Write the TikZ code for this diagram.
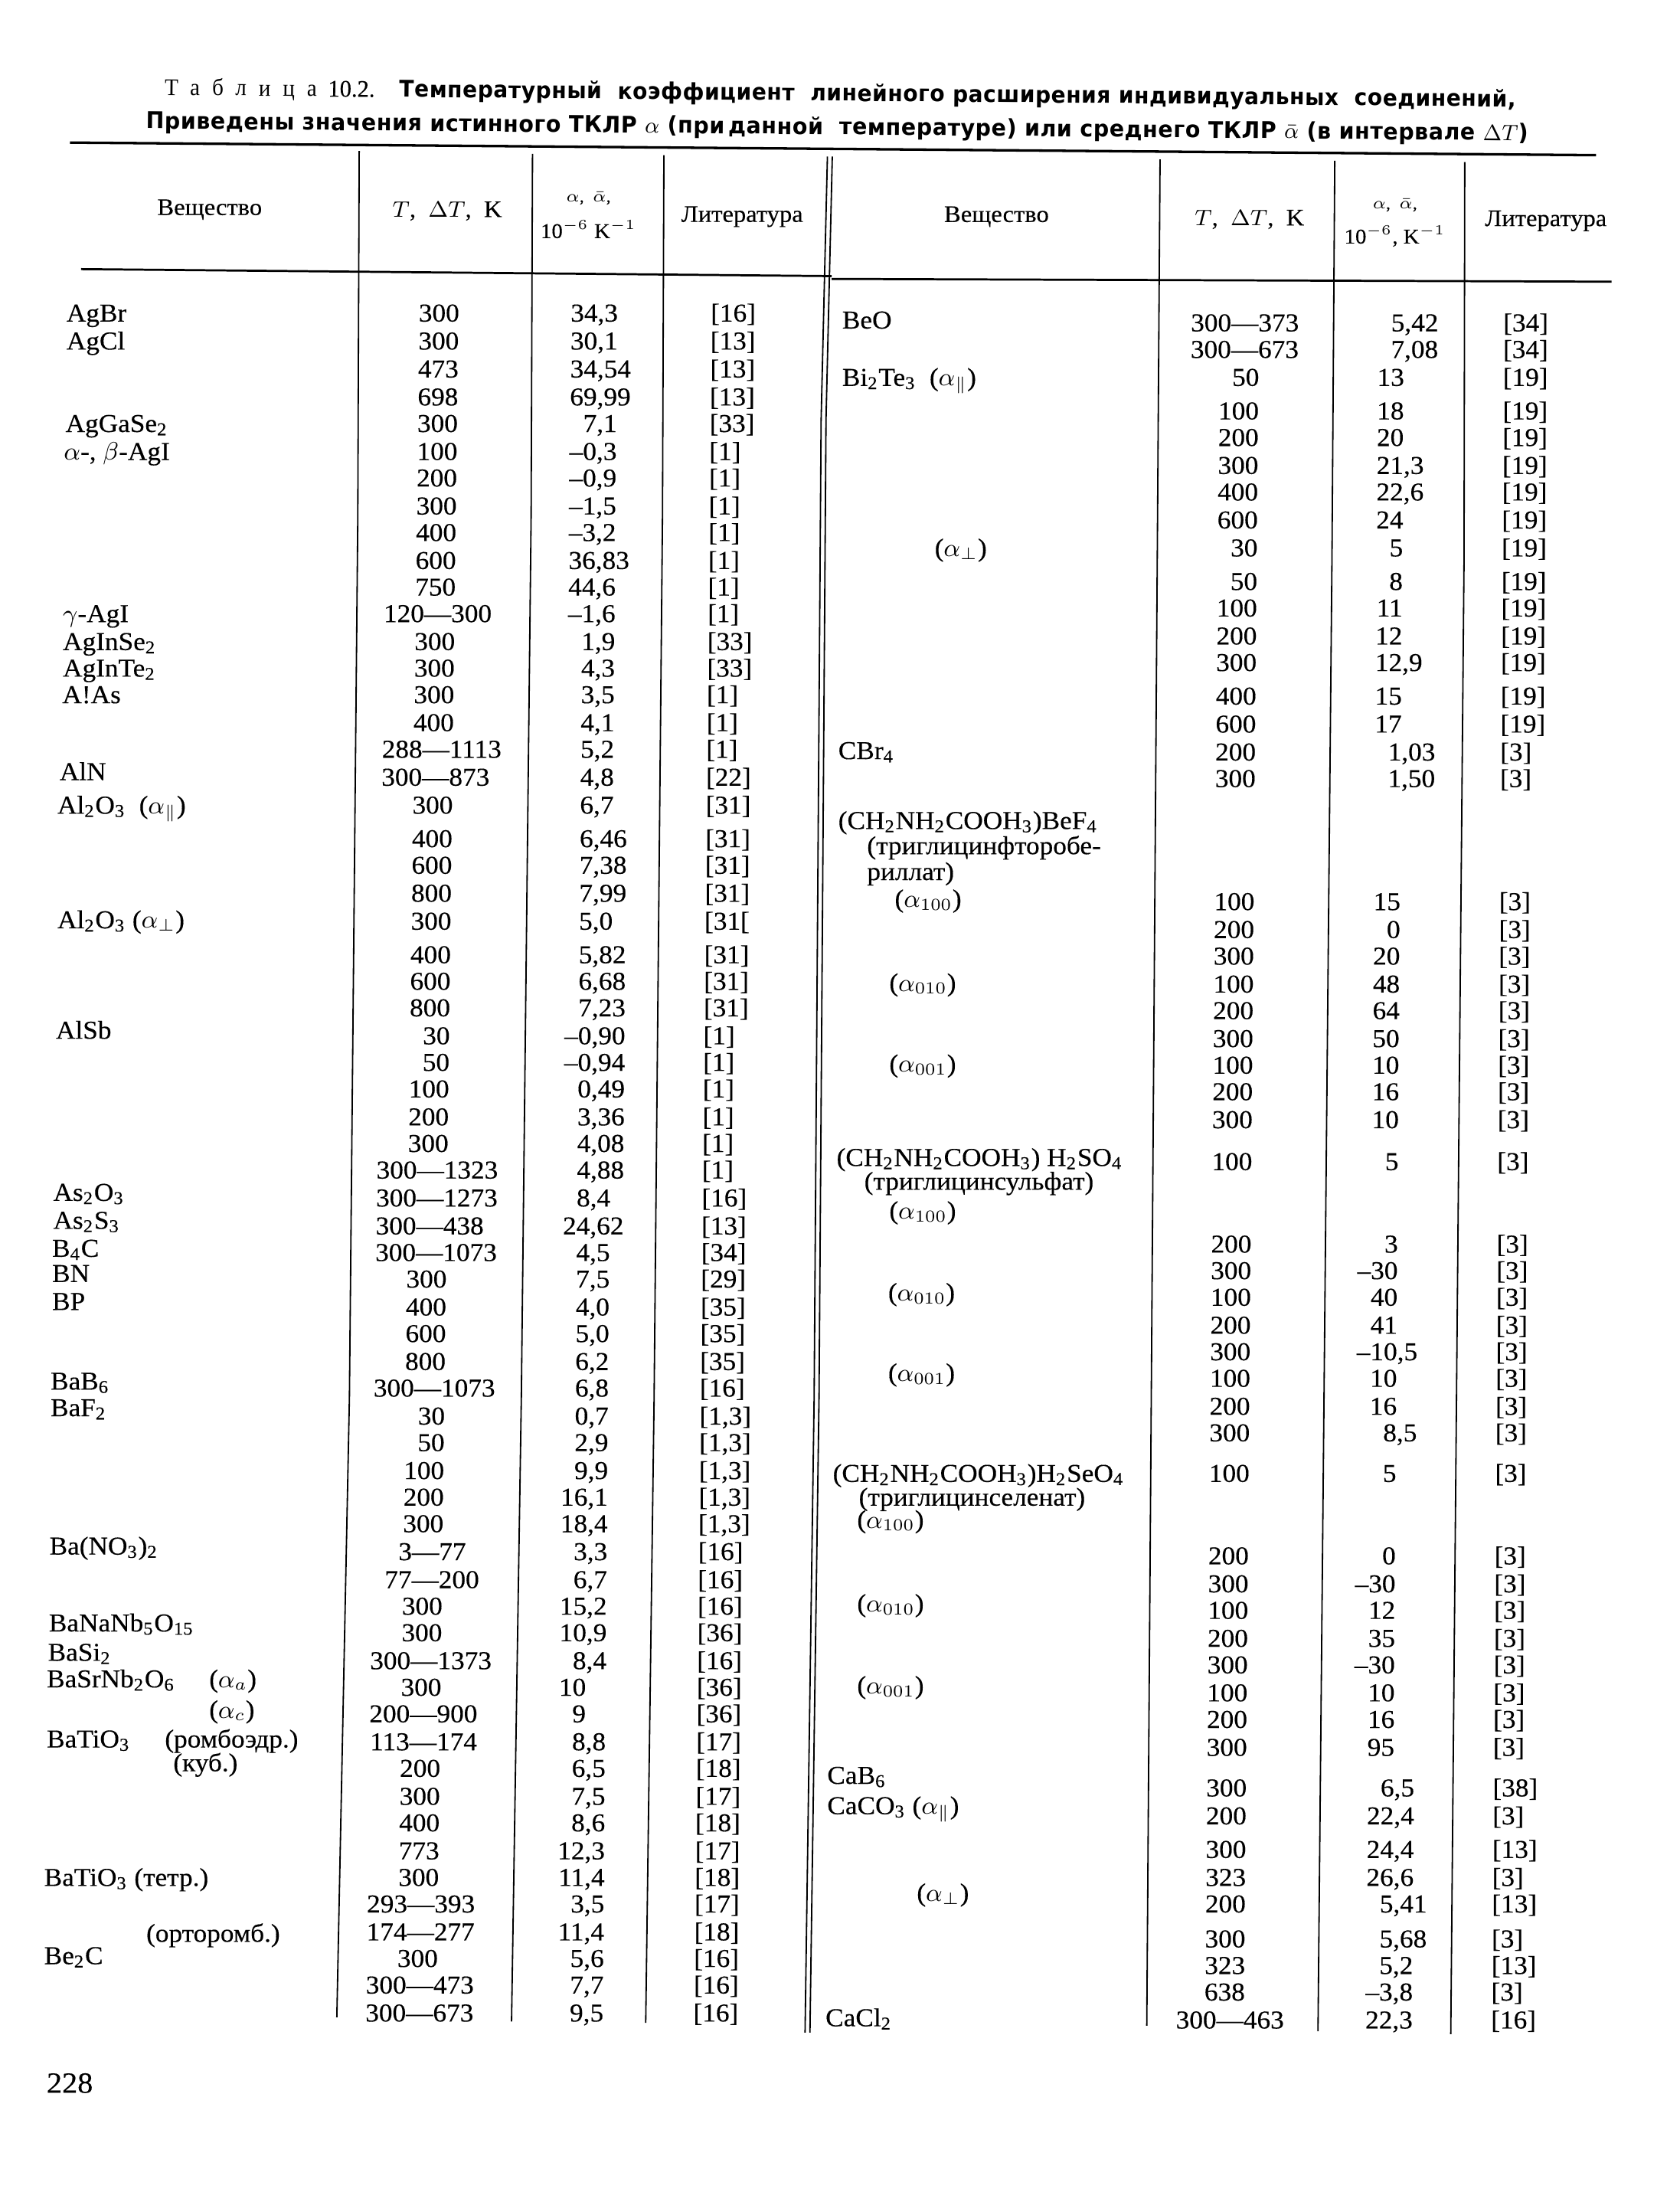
\documentclass[tikz,border=0pt]{standalone}
\usepackage{fontspec}
\usepackage{graphicx}
\setmainfont{Liberation Serif}[FakeStretch=1.05,FakeBold=0.3]
\newfontfamily\ttlsans{DejaVu Sans}[LetterSpace=2]
\newfontfamily\ttlspaced{Liberation Serif}[LetterSpace=55]
\newcommand\chsub[1]{\textsubscript{#1}}
\newsavebox\fitbox
\newcommand\fitw[2]{\sbox\fitbox{#2}\pgfmathsetmacro\fitsx{#1/\the\wd\fitbox}\scalebox{\fitsx}[1]{\usebox\fitbox}}
\newcommand\bodysize{\fontsize{9.2}{10}\selectfont}
\tikzset{
  cell/.style={inner sep=0pt, outer sep=0pt, font=\bodysize},
  tcell/.style={cell, anchor=base east},
  rcell/.style={cell, anchor=base west},
  vcell/.style={cell, anchor=base},
  lcell/.style={cell, anchor=base west},
  nmcell/.style={cell, anchor=base west},
  hdcell/.style={inner sep=0pt, font=\fontsize{8.5}{10}\selectfont},
  hdsmall/.style={inner sep=0pt, font=\fontsize{6}{7}\selectfont},
  hdmid/.style={inner sep=0pt, font=\fontsize{7.5}{9}\selectfont},
  rulethick/.style={line width=0.9pt},
  rulemid/.style={line width=0.75pt},
  vrule/.style={line width=0.5pt},
}
% left half rows
\newcommand\Ls[5]{%
  \node[tcell] (LT#1) at ({328.6-0.013*(#1-224)},{#1+6}) {#2};
  \node[vcell] (LV#1) at ({427.4-0.0085*(#1-250)},{#1+6}) {\llap{#3}\rlap{#4}};
  \node[lcell] (LL#1) at ({508.5-0.0102*(#1-226)},{#1+6}) {#5};}
\newcommand\Lr[6]{%
  \node[rcell] (LT#1) at ({325.6-0.013*(#1-224)},{#1+6}) {\llap{#2—}#3};
  \node[vcell] (LV#1) at ({427.4-0.0085*(#1-250)},{#1+6}) {\llap{#4}\rlap{#5}};
  \node[lcell] (LL#1) at ({508.5-0.0102*(#1-226)},{#1+6}) {#6};}
% right half rows
\newcommand\Rs[5]{%
  \node[tcell] (RT#1) at ({900.9-0.0088*(#1-270)},{#1+6}) {#2};
  \node[vcell] (RV#1) at ({1004.7-0.0072*(#1-270)},{#1+6}) {\llap{#3}\rlap{#4}};
  \node[lcell] (RL#1) at ({1075.6-0.0072*(#1-230)},{#1+6}) {#5};}
\newcommand\Rr[6]{%
  \node[rcell] (RT#1) at ({900.0-0.0088*(#1-270)},{#1+6}) {\llap{#2—}#3};
  \node[vcell] (RV#1) at ({1004.7-0.0072*(#1-270)},{#1+6}) {\llap{#4}\rlap{#5}};
  \node[lcell] (RL#1) at ({1075.6-0.0072*(#1-230)},{#1+6}) {#6};}
\newcommand\Nm[4]{\node[nmcell] (#1) at (#2,{#3+6}) {#4};}
\begin{document}
\begin{tikzpicture}[x=0.5pt,y=-0.5pt]
\fill[white] (0,0) rectangle (1202,1568);
\useasboundingbox (0,0) rectangle (1202,1568);

% title
\node[anchor=base west, inner sep=0pt, rotate=-0.5] (t1) at (117.5,68)
  {\fitw{483.3}{\fontsize{8.5}{9}\selectfont{\ttlspaced Таблица}\hspace{0.5em}10.2.\hspace{1.1em}{\fontsize{8.2}{9}\selectfont\ttlsans\bfseries Температурный\ \ коэффициент\ \ линейного\ расширения\ индивидуальных\ \ соединений,}}};
\node[anchor=base west, inner sep=0pt, rotate=-0.5] (t2) at (104,92)
  {\fitw{494.5}{\fontsize{8.2}{9}\selectfont\ttlsans\bfseries Приведены значения истинного ТКЛР {\mdseries$\alpha$} (при\,данной\ \ температуре) или среднего ТКЛР {\mdseries$\bar{\alpha}$} (в интервале {\mdseries$\Delta T$})}};

% rules
\draw[rulethick] (50,102) -- (1142,111);
\draw[rulemid] (58,192.5) -- (595,197.5);
\draw[rulemid] (595,199.5) -- (1153,201.5);

% vertical lines
\draw[vrule] (257,108) -- (256,370) -- (250,1000) -- (241,1443);
\draw[vrule] (381,110) -- (380,370) -- (373,1000) -- (366,1446);
\draw[vrule] (475,111) -- (474,370) -- (468,1000) -- (462,1447);
\draw[vrule] (592,112) -- (587.5,300) -- (582.5,1000) -- (576,1454);
\draw[vrule] (595.5,112) -- (591,300) -- (586,1000) -- (579.5,1454);
\draw[vrule] (830,114) -- (828,400) -- (820.5,1449);
\draw[vrule] (955,115) -- (953,400) -- (943,1453);
\draw[vrule] (1048,116) -- (1047.5,400) -- (1038,1455);

% header
\node[hdcell] (hL1) at (150,150) {Вещество};
\node[hdcell] (hL2) at (320,151) {$T$,\ \ $\Delta T$,\ \ K};
\node[hdsmall] (hL3a) at (421,142) {$\alpha$,\ \ $\bar{\alpha}$,};
\node[hdmid] (hL3b) at (421,164) {10$^{-6}$\ K$^{-1}$};
\node[hdcell] (hL4) at (531,155) {Литература};
\node[hdcell] (hR1) at (713,155) {Вещество};
\node[hdcell] (hR2) at (894,157) {$T$,\ \ $\Delta T$,\ \ K};
\node[hdsmall] (hR3a) at (998,147) {$\alpha$,\ \ $\bar{\alpha}$,};
\node[hdmid] (hR3b) at (998,169) {10$^{-6}$,\ K$^{-1}$};
\node[hdcell] (hR4) at (1106,158) {Литература};

% left names
\Nm{nAgBr}{47.6}{224}{AgBr}
\Nm{nAgCl}{47.6}{244}{AgCl}
\Nm{nAgGaSe}{46.9}{303}{AgGaSe\chsub{2}}
\Nm{nAgI}{45.7}{323}{$\alpha$-,\ $\beta$-AgI}
\Nm{ngAgI}{45}{439}{$\gamma$-AgI}
\Nm{nAgInSe}{45}{459}{AgInSe\chsub{2}}
\Nm{nAgInTe}{45}{478}{AgInTe\chsub{2}}
\Nm{nAlAs}{44.6}{497}{A!As}
\Nm{nAlN}{42.7}{552}{AlN}
\Nm{nAlOa}{41.1}{576}{Al\chsub{2}O\chsub{3}\ \ ($\alpha_{\parallel}$)}
\Nm{nAlOb}{41.1}{658}{Al\chsub{2}O\chsub{3}\ ($\alpha_{\perp}$)}
\Nm{nAlSb}{40}{737}{AlSb}
\Nm{nAsO}{38.1}{853}{As\chsub{2}O\chsub{3}}
\Nm{nAsS}{38.1}{873}{As\chsub{2}S\chsub{3}}
\Nm{nBC}{37.3}{893}{B\chsub{4}C}
\Nm{nBN}{37.3}{911}{BN}
\Nm{nBP}{37.3}{931}{BP}
\Nm{nBaB}{36.2}{988}{BaB\chsub{6}}
\Nm{nBaF}{36.2}{1007}{BaF\chsub{2}}
\Nm{nBaNO}{35.4}{1106}{Ba(NO\chsub{3})\chsub{2}}
\Nm{nBaNaNb}{35}{1161}{BaNaNb\chsub{5}O\chsub{15}}
\Nm{nBaSi}{34.3}{1182}{BaSi\chsub{2}}
\Nm{nBaSrNb}{33.5}{1201}{BaSrNb\chsub{2}O\chsub{6}}
\Nm{nBaSrNba}{149.7}{1201}{($\alpha_a$)}
\Nm{nBaSrNbc}{149.7}{1223}{($\alpha_c$)}
\Nm{nBaTiO}{33.5}{1244}{BaTiO\chsub{3}}
\Nm{nBaTiOr}{118}{1244}{(ромбоэдр.)}
\Nm{nBaTiOk}{124}{1261}{(куб.)}
\Nm{nBaTiOt}{31.6}{1343}{BaTiO\chsub{3} (тетр.)}
\Nm{nBaTiOo}{104.7}{1383}{(орторомб.)}
\Nm{nBeC}{31.6}{1399}{Be\chsub{2}C}

% left data
\Ls{224}{300}{34}{,3}{[16]}
\Ls{244}{300}{30}{,1}{[13]}
\Ls{264}{473}{34}{,54}{[13]}
\Ls{284}{698}{69}{,99}{[13]}
\Ls{303}{300}{7}{,1}{[33]}
\Ls{323}{100}{–0}{,3}{[1]}
\Ls{342}{200}{–0}{,9}{[1]}
\Ls{362}{300}{–1}{,5}{[1]}
\Ls{381}{400}{–3}{,2}{[1]}
\Ls{401}{600}{36}{,83}{[1]}
\Ls{420}{750}{44}{,6}{[1]}
\Lr{439}{120}{300}{–1}{,6}{[1]}
\Ls{459}{300}{1}{,9}{[33]}
\Ls{478}{300}{4}{,3}{[33]}
\Ls{497}{300}{3}{,5}{[1]}
\Ls{517}{400}{4}{,1}{[1]}
\Lr{536}{288}{1113}{5}{,2}{[1]}
\Lr{556}{300}{873}{4}{,8}{[22]}
\Ls{576}{300}{6}{,7}{[31]}
\Ls{600}{400}{6}{,46}{[31]}
\Ls{619}{600}{7}{,38}{[31]}
\Ls{639}{800}{7}{,99}{[31]}
\Ls{659}{300}{5}{,0}{[31[}
\Ls{683}{400}{5}{,82}{[31]}
\Ls{702}{600}{6}{,68}{[31]}
\Ls{721}{800}{7}{,23}{[31]}
\Ls{741}{30}{–0}{,90}{[1]}
\Ls{760}{50}{–0}{,94}{[1]}
\Ls{779}{100}{0}{,49}{[1]}
\Ls{799}{200}{3}{,36}{[1]}
\Ls{818}{300}{4}{,08}{[1]}
\Lr{837}{300}{1323}{4}{,88}{[1]}
\Lr{857}{300}{1273}{8}{,4}{[16]}
\Lr{877}{300}{438}{24}{,62}{[13]}
\Lr{896}{300}{1073}{4}{,5}{[34]}
\Ls{915}{300}{7}{,5}{[29]}
\Ls{935}{400}{4}{,0}{[35]}
\Ls{954}{600}{5}{,0}{[35]}
\Ls{974}{800}{6}{,2}{[35]}
\Lr{993}{300}{1073}{6}{,8}{[16]}
\Ls{1013}{30}{0}{,7}{[1,3]}
\Ls{1032}{50}{2}{,9}{[1,3]}
\Ls{1052}{100}{9}{,9}{[1,3]}
\Ls{1071}{200}{16}{,1}{[1,3]}
\Ls{1090}{300}{18}{,4}{[1,3]}
\Lr{1110}{3}{77}{3}{,3}{[16]}
\Lr{1130}{77}{200}{6}{,7}{[16]}
\Ls{1149}{300}{15}{,2}{[16]}
\Ls{1168}{300}{10}{,9}{[36]}
\Lr{1188}{300}{1373}{8}{,4}{[16]}
\Ls{1207}{300}{10}{}{[36]}
\Lr{1226}{200}{900}{9}{}{[36]}
\Lr{1246}{113}{174}{8}{,8}{[17]}
\Ls{1265}{200}{6}{,5}{[18]}
\Ls{1285}{300}{7}{,5}{[17]}
\Ls{1304}{400}{8}{,6}{[18]}
\Ls{1324}{773}{12}{,3}{[17]}
\Ls{1343}{300}{11}{,4}{[18]}
\Lr{1362}{293}{393}{3}{,5}{[17]}
\Lr{1382}{174}{277}{11}{,4}{[18]}
\Ls{1401}{300}{5}{,6}{[16]}
\Lr{1420}{300}{473}{7}{,7}{[16]}
\Lr{1440}{300}{673}{9}{,5}{[16]}

% right names
\Nm{nBeO}{602.6}{229}{BeO}
\Nm{nBiTe}{602.6}{270}{Bi\chsub{2}Te\chsub{3}\ \ ($\alpha_{\parallel}$)}
\Nm{nBiTep}{668.8}{392}{($\alpha_{\perp}$)}
\Nm{nCBr}{599.8}{537}{CBr\chsub{4}}
\Nm{nTGFB}{599.8}{587}{(CH\chsub{2}NH\chsub{2}COOH\chsub{3})BeF\chsub{4}}
\Nm{nTGFBa}{620.4}{605}{(триглицинфторобе-}
\Nm{nTGFBb}{620.4}{623.5}{риллат)}
\Nm{nTGFBx}{640.2}{643}{($\alpha_{100}$)}
\Nm{nTGFBy}{636.3}{703}{($\alpha_{010}$)}
\Nm{nTGFBz}{636.3}{761}{($\alpha_{001}$)}
\Nm{nTGS}{598.6}{828}{(CH\chsub{2}NH\chsub{2}COOH\chsub{3}) H\chsub{2}SO\chsub{4}}
\Nm{nTGSa}{618.4}{845}{(триглицинсульфат)}
\Nm{nTGSx}{636.3}{866}{($\alpha_{100}$)}
\Nm{nTGSy}{635.5}{924.5}{($\alpha_{010}$)}
\Nm{nTGSz}{635.5}{982}{($\alpha_{001}$)}
\Nm{nTGSe}{595.9}{1054}{(CH\chsub{2}NH\chsub{2}COOH\chsub{3})H\chsub{2}SeO\chsub{4}}
\Nm{nTGSea}{614.5}{1071}{(триглицинселенат)}
\Nm{nTGSex}{613.3}{1087}{($\alpha_{100}$)}
\Nm{nTGSey}{613.3}{1147}{($\alpha_{010}$)}
\Nm{nTGSez}{613.3}{1205.6}{($\alpha_{001}$)}
\Nm{nCaB}{591.9}{1270}{CaB\chsub{6}}
\Nm{nCaCO}{591.9}{1291.7}{CaCO\chsub{3} ($\alpha_{\parallel}$)}
\Nm{nCaCOp}{656}{1354}{($\alpha_{\perp}$)}
\Nm{nCaCl}{590.7}{1443.4}{CaCl\chsub{2}}

% right data
\Rr{231}{300}{373}{5}{,42}{[34]}
\Rr{250}{300}{673}{7}{,08}{[34]}
\Rs{270}{50}{13}{}{[19]}
\Rs{294}{100}{18}{}{[19]}
\Rs{313}{200}{20}{}{[19]}
\Rs{333}{300}{21}{,3}{[19]}
\Rs{352}{400}{22}{,6}{[19]}
\Rs{372}{600}{24}{}{[19]}
\Rs{392}{30}{5}{}{[19]}
\Rs{416}{50}{8}{}{[19]}
\Rs{435}{100}{11}{}{[19]}
\Rs{455}{200}{12}{}{[19]}
\Rs{474}{300}{12}{,9}{[19]}
\Rs{498}{400}{15}{}{[19]}
\Rs{518}{600}{17}{}{[19]}
\Rs{538}{200}{1}{,03}{[3]}
\Rs{557}{300}{1}{,50}{[3]}
\Rs{645}{100}{15}{}{[3]}
\Rs{665}{200}{0}{}{[3]}
\Rs{684}{300}{20}{}{[3]}
\Rs{704}{100}{48}{}{[3]}
\Rs{723}{200}{64}{}{[3]}
\Rs{743}{300}{50}{}{[3]}
\Rs{762}{100}{10}{}{[3]}
\Rs{781}{200}{16}{}{[3]}
\Rs{801}{300}{10}{}{[3]}
\Rs{831}{100}{5}{}{[3]}
\Rs{890}{200}{3}{}{[3]}
\Rs{909}{300}{–30}{}{[3]}
\Rs{928}{100}{40}{}{[3]}
\Rs{948}{200}{41}{}{[3]}
\Rs{967}{300}{–10}{,5}{[3]}
\Rs{986}{100}{10}{}{[3]}
\Rs{1006}{200}{16}{}{[3]}
\Rs{1025}{300}{8}{,5}{[3]}
\Rs{1054}{100}{5}{}{[3]}
\Rs{1113}{200}{0}{}{[3]}
\Rs{1133}{300}{–30}{}{[3]}
\Rs{1152}{100}{12}{}{[3]}
\Rs{1172}{200}{35}{}{[3]}
\Rs{1191}{300}{–30}{}{[3]}
\Rs{1211}{100}{10}{}{[3]}
\Rs{1230}{200}{16}{}{[3]}
\Rs{1250}{300}{95}{}{[3]}
\Rs{1279}{300}{6}{,5}{[38]}
\Rs{1299}{200}{22}{,4}{[3]}
\Rs{1323}{300}{24}{,4}{[13]}
\Rs{1343}{323}{26}{,6}{[3]}
\Rs{1362}{200}{5}{,41}{[13]}
\Rs{1387}{300}{5}{,68}{[3]}
\Rs{1406}{323}{5}{,2}{[13]}
\Rs{1425}{638}{–3}{,8}{[3]}
\Rr{1445}{300}{463}{22}{,3}{[16]}

% page number
\node[anchor=base west, inner sep=0pt, font=\fontsize{10.5}{12}\selectfont] (pg) at (33,1497) {228};
\end{tikzpicture}
\end{document}
